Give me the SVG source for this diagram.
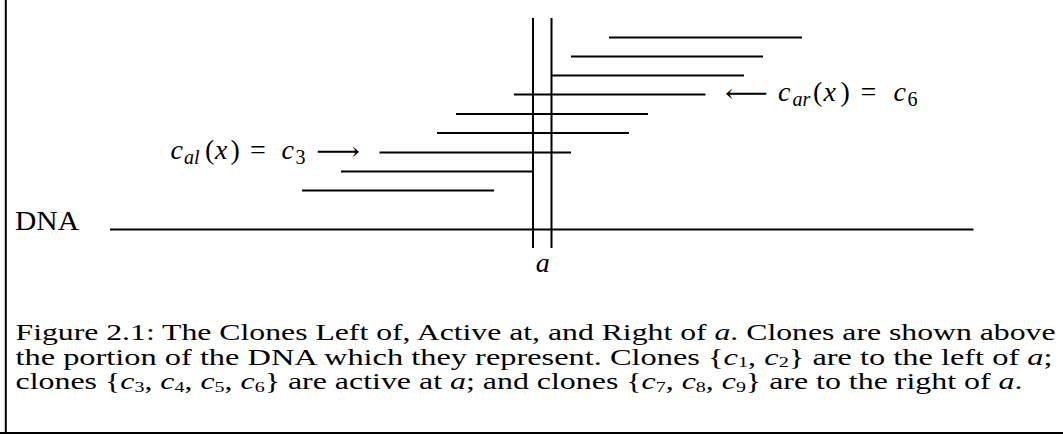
<svg xmlns="http://www.w3.org/2000/svg" width="1063" height="434" viewBox="0 0 1063 434">
<style>
.ln{stroke:#000;stroke-width:2;fill:none}
.frame{stroke:#000;stroke-width:2;fill:none}
text{font-family:"Liberation Serif","DejaVu Serif",serif;fill:#000}
.fig{font-size:28px}
.cap{font-size:24px}
.it{font-style:italic}
.s{font-size:20px}
.cs{font-size:15px}
.arr{font-family:"DejaVu Serif","DejaVu Sans",serif;font-size:26px}
</style>
<rect width="1063" height="434" fill="#fff"/>
<g id="frame">
<line class="frame" x1="5.8" y1="0" x2="5.8" y2="434"/>
<line class="frame" x1="0" y1="433" x2="1063" y2="433"/>
</g>
<g id="connectors">
<line id="clone-c9" class="ln" x1="609" y1="37.5" x2="802" y2="37.5"/>
<line id="clone-c8" class="ln" x1="571" y1="56.5" x2="763" y2="56.5"/>
<line id="clone-c7" class="ln" x1="552" y1="75.5" x2="744" y2="75.5"/>
<line id="clone-c6" class="ln" x1="514" y1="94.5" x2="705.5" y2="94.5"/>
<line id="clone-c5" class="ln" x1="456" y1="114" x2="648" y2="114"/>
<line id="clone-c4" class="ln" x1="437" y1="133" x2="629" y2="133"/>
<line id="clone-c3" class="ln" x1="379.5" y1="152.5" x2="571" y2="152.5"/>
<line id="clone-c2" class="ln" x1="341" y1="171.5" x2="533" y2="171.5"/>
<line id="clone-c1" class="ln" x1="302" y1="190.5" x2="494" y2="190.5"/>
<line id="dna-line" class="ln" x1="110" y1="229.5" x2="973.5" y2="229.5"/>
<line id="a-left" class="ln" x1="533" y1="18" x2="533" y2="248"/>
<line id="a-right" class="ln" x1="551.5" y1="18" x2="551.5" y2="248"/>
</g>
<g id="label-dna">
<text class="fig" x="15" y="230" textLength="64" lengthAdjust="spacingAndGlyphs">DNA</text>
</g>
<g id="label-a">
<text class="fig it" x="542.7" y="271.7" text-anchor="middle">a</text>
</g>
<g id="label-cal">
<text class="fig"><tspan class="it" x="170.5" y="159">c</tspan><tspan class="it s" x="184" y="163.5">al</tspan><tspan x="205" y="159">(</tspan><tspan class="it" x="215">x</tspan><tspan x="230.5">)</tspan><tspan x="250">=</tspan><tspan class="it" x="281.5">c</tspan><tspan class="s" x="295.5" y="163.5">3</tspan></text>
<text class="arr" x="316" y="160" textLength="44" lengthAdjust="spacingAndGlyphs">⟶</text>
</g>
<g id="label-car">
<text class="arr" x="725" y="102" textLength="43" lengthAdjust="spacingAndGlyphs">⟵</text>
<text class="fig"><tspan class="it" x="778" y="101">c</tspan><tspan class="it s" x="792.5" y="105.5">ar</tspan><tspan x="813" y="101">(</tspan><tspan class="it" x="823.5">x</tspan><tspan x="840.5">)</tspan><tspan x="860.5">=</tspan><tspan class="it" x="893.5">c</tspan><tspan class="s" x="907.5" y="105.5">6</tspan></text>
</g>
<g id="caption">
<text class="cap" x="15.5" y="340" textLength="1040" lengthAdjust="spacingAndGlyphs">Figure 2.1: The Clones Left of, Active at, and Right of <tspan class="it">a</tspan>. Clones are shown above</text>
<text class="cap" x="15.5" y="364.8" textLength="1037" lengthAdjust="spacingAndGlyphs">the portion of the DNA which they represent. Clones {<tspan class="it">c</tspan><tspan class="cs" dy="2.5">1</tspan><tspan dy="-2.5">, </tspan><tspan class="it">c</tspan><tspan class="cs" dy="2.5">2</tspan><tspan dy="-2.5">} are to the left of </tspan><tspan class="it">a</tspan>;</text>
<text class="cap" x="15.5" y="389.3" textLength="1007" lengthAdjust="spacingAndGlyphs">clones {<tspan class="it">c</tspan><tspan class="cs" dy="2.5">3</tspan><tspan dy="-2.5">, </tspan><tspan class="it">c</tspan><tspan class="cs" dy="2.5">4</tspan><tspan dy="-2.5">, </tspan><tspan class="it">c</tspan><tspan class="cs" dy="2.5">5</tspan><tspan dy="-2.5">, </tspan><tspan class="it">c</tspan><tspan class="cs" dy="2.5">6</tspan><tspan dy="-2.5">} are active at </tspan><tspan class="it">a</tspan>; and clones {<tspan class="it">c</tspan><tspan class="cs" dy="2.5">7</tspan><tspan dy="-2.5">, </tspan><tspan class="it">c</tspan><tspan class="cs" dy="2.5">8</tspan><tspan dy="-2.5">, </tspan><tspan class="it">c</tspan><tspan class="cs" dy="2.5">9</tspan><tspan dy="-2.5">} are to the right of </tspan><tspan class="it">a</tspan>.</text>
</g>
</svg>
